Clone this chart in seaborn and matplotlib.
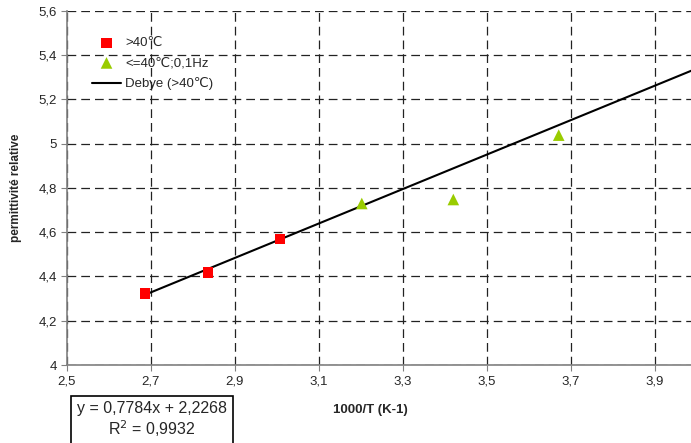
import numpy as np
import pandas as pd
import matplotlib
matplotlib.use("Agg")
import matplotlib.pyplot as plt
import seaborn as sns
from matplotlib.ticker import FuncFormatter

# data
x_hot = [2.686, 2.836, 3.008]
y_hot = [4.323, 4.418, 4.571]
x_cold = [3.202, 3.420, 3.671]
y_cold = [4.730, 4.748, 5.039]
slope = 0.7784
intercept = 2.2268
x_fit_end = 3.99
xticks = [2.5, 2.7, 2.9, 3.1, 3.3, 3.5, 3.7, 3.9]
yticks = [4, 4.2, 4.4, 4.6, 4.8, 5, 5.2, 5.4, 5.6]

sns.set_style("white")
plt.rcParams["font.family"] = ["Liberation Sans", "DejaVu Sans"]

fig = plt.figure(figsize=(6.91, 4.43), dpi=100)
ax = fig.add_axes([67 / 691, 1 - 365 / 443, 624 / 691, 354 / 443])

fit_x = np.array([x_hot[0], x_fit_end])
fit_df = pd.DataFrame({"x": fit_x, "y": slope * fit_x + intercept})

sns.scatterplot(x=x_hot, y=y_hot, marker="s", s=55, color="#ff0000",
                edgecolor="none", label=">40\u2103", ax=ax, zorder=3)
sns.scatterplot(x=x_cold, y=y_cold, marker="^", s=70, color="#99cc00",
                edgecolor="none", label="<=40\u2103;0,1Hz", ax=ax, zorder=3)
sns.lineplot(data=fit_df, x="x", y="y", color="black", lw=1.5,
             label="Debye (>40\u2103)", ax=ax, zorder=2)

ax.set_xlim(2.5, 3.986)
ax.set_ylim(4, 5.6)
ax.set_xticks(xticks)
ax.set_yticks(yticks)
fmt = FuncFormatter(lambda v, p: f"{v:g}".replace(".", ","))
ax.xaxis.set_major_formatter(fmt)
ax.yaxis.set_major_formatter(fmt)
ax.tick_params(labelsize=9.5, length=4, direction="out", color="#808080",
               left=True, bottom=True)
ax.grid(True, color="#222222", linestyle=(0, (7, 4)), lw=0.9)
for side in ["top", "right"]:
    ax.spines[side].set_visible(False)
for side in ["left", "bottom"]:
    ax.spines[side].set_color("#808080")
    ax.spines[side].set_linewidth(1.2)

ax.set_xlabel("1000/T (K-1)", fontsize=9.5, fontweight="bold")
ax.set_ylabel("permittivité relative", fontsize=8.5, fontweight="bold", labelpad=12)
ax.xaxis.set_label_coords((370 - 67) / 624, -(410 - 365) / 354, transform=ax.transAxes)
ax.xaxis.label.set_va("center")

leg = ax.legend(loc="upper left", bbox_to_anchor=(25 / 624, 1 - 26 / 354),
                borderaxespad=0, borderpad=0, frameon=False,
                fontsize=9.5, handlelength=2.2, handletextpad=0.3,
                labelspacing=0.6)

fig.text(152 / 691, 1 - 420 / 443, "y = 0,7784x + 2,2268\nR$^2$ = 0,9932",
         ha="center", va="center", fontsize=11.5, linespacing=1.15,
         bbox=dict(boxstyle="square,pad=0.4", fc="white", ec="black", lw=1.2))

fig.savefig("out.png", dpi=100)
